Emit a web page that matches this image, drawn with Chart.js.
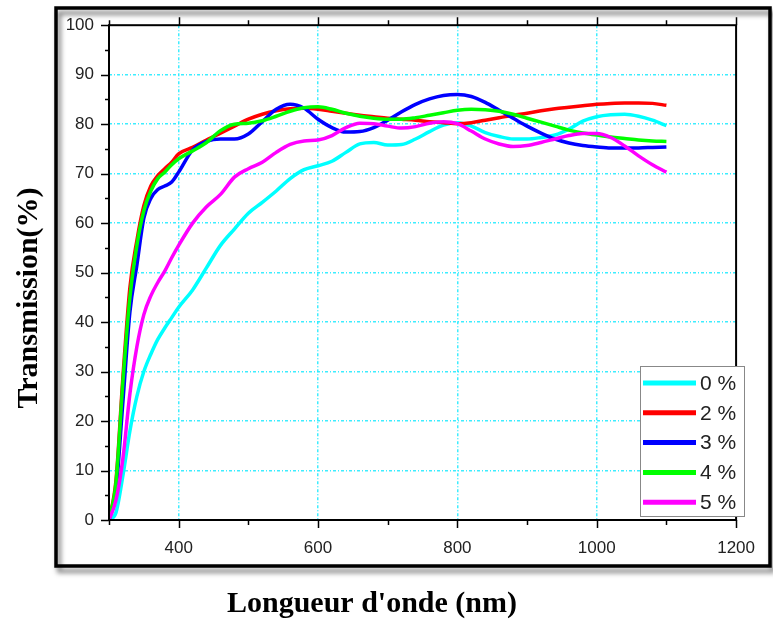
<!DOCTYPE html>
<html>
<head>
<meta charset="utf-8">
<title>Transmission</title>
<script src="https://cdn.jsdelivr.net/npm/chart.js@4.4.0/dist/chart.umd.min.js"></script>
<style>
  html, body { margin: 0; padding: 0; background: #fff; }
  canvas { display: block; }
</style>
</head>
<body>
<canvas id="transChart" width="773" height="620"></canvas>
<script>
// wavelength (nm)
const wavelengths = [300, 310, 320, 330, 340, 350, 360, 370, 380, 390, 400,
  420, 440, 460, 480, 500, 520, 540, 560, 580, 600,
  620, 640, 660, 680, 700, 720, 740, 760, 780, 800,
  820, 840, 860, 880, 900, 920, 940, 960, 980, 1000,
  1020, 1040, 1060, 1080, 1100];

// transmission (%) per doping level
const t0 = [0, 1.5, 9, 18, 25, 30, 33.5, 36.5, 38.8, 40.9, 43,
  46.5, 51, 55.5, 58.8, 62, 64.2, 66.5, 69, 70.8, 71.6,
  72.5, 74.3, 76, 76.3, 75.8, 75.9, 77, 78.5, 79.8, 80.3,
  79.6, 78.3, 77.5, 77, 77, 77.3, 77.8, 79, 80.6, 81.5,
  81.9, 82, 81.6, 80.8, 79.7];
const t2 = [0, 8, 29, 47, 56.5, 63.5, 67.5, 69.6, 71, 72.3, 74,
  75.3, 76.8, 78.2, 79.6, 81, 82, 82.7, 83.1, 83.2, 83,
  82.6, 82.2, 81.8, 81.5, 81.2, 81, 80.8, 80.5, 80.3, 80.1,
  80.3, 80.8, 81.3, 81.8, 82.2, 82.7, 83.1, 83.4, 83.7, 84,
  84.2, 84.3, 84.3, 84.2, 83.8];
const t3 = [0, 6, 24, 42, 51.5, 61, 65, 66.8, 67.5, 68.3, 70.3,
  74.8, 76.5, 77, 77, 78, 80.5, 83, 84, 83.2, 81,
  79.3, 78.4, 78.5, 79.3, 80.8, 82.5, 84, 85.1, 85.8, 86,
  85.6, 84.4, 82.8, 81.2, 79.6, 78.2, 77, 76.2, 75.7, 75.4,
  75.2, 75.2, 75.2, 75.3, 75.4];
const t4 = [0, 7.5, 28, 45, 55.5, 62.5, 66.5, 69, 70.3, 71.8, 73,
  74.6, 76.3, 78.7, 80, 80.2, 80.7, 81.6, 82.6, 83.3, 83.5,
  83, 82.2, 81.6, 81.2, 81, 81, 81.3, 81.8, 82.3, 82.8,
  83, 82.9, 82.6, 82, 81.2, 80.4, 79.6, 78.8, 78.2, 77.8,
  77.4, 77.1, 76.8, 76.6, 76.5];
const t5 = [0, 4, 12.5, 25.5, 35, 41.5, 45.3, 48, 50.3, 53, 55.5,
  60, 63.3, 65.8, 69.3, 71, 72.3, 74.3, 75.9, 76.6, 76.8,
  77.7, 79.3, 80.2, 80.1, 79.6, 79.2, 79.5, 80.2, 80.5, 80.1,
  78.6, 77, 76, 75.5, 75.7, 76.3, 77, 77.7, 78.1, 78.1,
  77.3, 75.6, 73.6, 71.8, 70.3];

const seriesLabels = ["0 %", "2 %", "3 %", "4 %", "5 %"];
const seriesValues = [t0, t2, t3, t4, t5];
const seriesColors = ["#00ffff", "#ff0000", "#0000ff", "#00ff00", "#ff00ff"];
const drawOrder = [5, 4, 3, 2, 1];

const xLabelTicks = [400, 600, 800, 1000, 1200];
const xGridTicks = [400, 600, 800, 1000];
const yGridTicks = [10, 20, 30, 40, 50, 60, 70, 80, 90];

const xTitle = "Longueur d'onde (nm)";
const yTitle = "Transmission(%)";

const gridCyan = "rgba(40, 235, 255, 0.9)";
const tickFont = { family: "'Liberation Sans', Arial, sans-serif", size: 17 };

// outer frame, axis box, ticks, legend, titles
const decorations = {
  id: "decorations",
  beforeDraw(chart) {
    const ctx = chart.ctx;
    ctx.save();
    ctx.shadowColor = "rgba(0,0,0,0.55)";
    ctx.shadowBlur = 5;
    ctx.shadowOffsetX = 3;
    ctx.shadowOffsetY = 5;
    ctx.strokeStyle = "#000";
    ctx.lineWidth = 3.5;
    ctx.strokeRect(56, 8, 714, 558);
    ctx.restore();
  },
  afterDatasetsDraw(chart) {
    const { ctx, chartArea: a, scales: { x, y } } = chart;
    ctx.save();
    ctx.strokeStyle = "#000";
    ctx.lineWidth = 2;
    ctx.strokeRect(a.left, a.top, a.right - a.left, a.bottom - a.top);

    ctx.lineWidth = 1.5;
    ctx.beginPath();
    for (let v = 300; v <= 1200; v += 100) {
      const px = Math.round(x.getPixelForValue(v)) + 0.5;
      const len = xLabelTicks.includes(v) ? 8 : 5;
      ctx.moveTo(px, a.bottom);
      ctx.lineTo(px, a.bottom + len);
      ctx.moveTo(px, a.top);
      ctx.lineTo(px, a.top - len);
    }
    for (let v = 0; v <= 100; v += 5) {
      const py = Math.round(y.getPixelForValue(v)) + 0.5;
      const len = v % 10 === 0 ? 8 : 4;
      ctx.moveTo(a.left, py);
      ctx.lineTo(a.left - len, py);
    }
    ctx.stroke();

    // legend
    const lx = 640, ly = 366, lw = 104, lh = 150;
    ctx.fillStyle = "#fff";
    ctx.fillRect(lx, ly, lw, lh);
    ctx.strokeStyle = "#888";
    ctx.lineWidth = 1;
    ctx.strokeRect(lx + 0.5, ly + 0.5, lw, lh);
    ctx.font = "21px 'Liberation Sans', Arial, sans-serif";
    ctx.textBaseline = "middle";
    ctx.textAlign = "left";
    chart.data.datasets.forEach((ds, i) => {
      const rowY = ly + 17 + i * 29.8;
      ctx.strokeStyle = ds.borderColor;
      ctx.lineWidth = 5;
      ctx.beginPath();
      ctx.moveTo(lx + 3, rowY);
      ctx.lineTo(lx + 56, rowY);
      ctx.stroke();
      ctx.fillStyle = "#222";
      ctx.fillText(ds.label, lx + 60, rowY + 1);
    });

    // axis titles
    ctx.fillStyle = "#000";
    ctx.font = "bold 30px 'Liberation Serif', 'Times New Roman', serif";
    ctx.textAlign = "center";
    ctx.textBaseline = "middle";
    ctx.fillText(xTitle, 372, 604);
    ctx.translate(29, 298);
    ctx.rotate(-Math.PI / 2);
    ctx.fillText(yTitle, 0, 0);
    ctx.restore();
  }
};

const ctx = document.getElementById("transChart").getContext("2d");
const transChart = new Chart(ctx, {
  type: "line",
  data: {
    datasets: seriesLabels.map((label, i) => ({
      label: label,
      data: wavelengths.map((w, k) => ({ x: w, y: seriesValues[i][k] })),
      borderColor: seriesColors[i],
      backgroundColor: seriesColors[i],
      borderWidth: 3.5,
      pointRadius: 0,
      cubicInterpolationMode: "monotone",
      fill: false,
      order: drawOrder[i]
    }))
  },
  options: {
    responsive: false,
    devicePixelRatio: 1,
    animation: false,
    layout: { padding: { top: 20, right: 29, bottom: 0, left: 0 } },
    plugins: {
      legend: { display: false },
      tooltip: { enabled: false },
      title: { display: false }
    },
    scales: {
      x: {
        type: "linear",
        min: 300,
        max: 1200,
        afterFit(scale) { scale.height = 100; },
        ticks: {
          stepSize: 100,
          autoSkip: false,
          maxRotation: 0,
          padding: 18,
          color: "#222",
          font: tickFont,
          callback: v => xLabelTicks.includes(v) ? String(v) : ""
        },
        grid: {
          drawTicks: false,
          lineWidth: 1.5,
          color: c => xGridTicks.includes(c.tick && c.tick.value) ? gridCyan : "rgba(0,0,0,0)"
        },
        border: { display: false, dash: [3, 2, 1, 2] }
      },
      y: {
        min: 0,
        max: 100,
        afterFit(scale) { scale.width = 109; },
        ticks: {
          stepSize: 10,
          padding: 15,
          color: "#222",
          font: tickFont
        },
        grid: {
          drawTicks: false,
          lineWidth: 1.5,
          color: c => yGridTicks.includes(c.tick && c.tick.value) ? gridCyan : "rgba(0,0,0,0)"
        },
        border: { display: false, dash: [3, 2, 1, 2] }
      }
    }
  },
  plugins: [decorations]
});
</script>
</body>
</html>
